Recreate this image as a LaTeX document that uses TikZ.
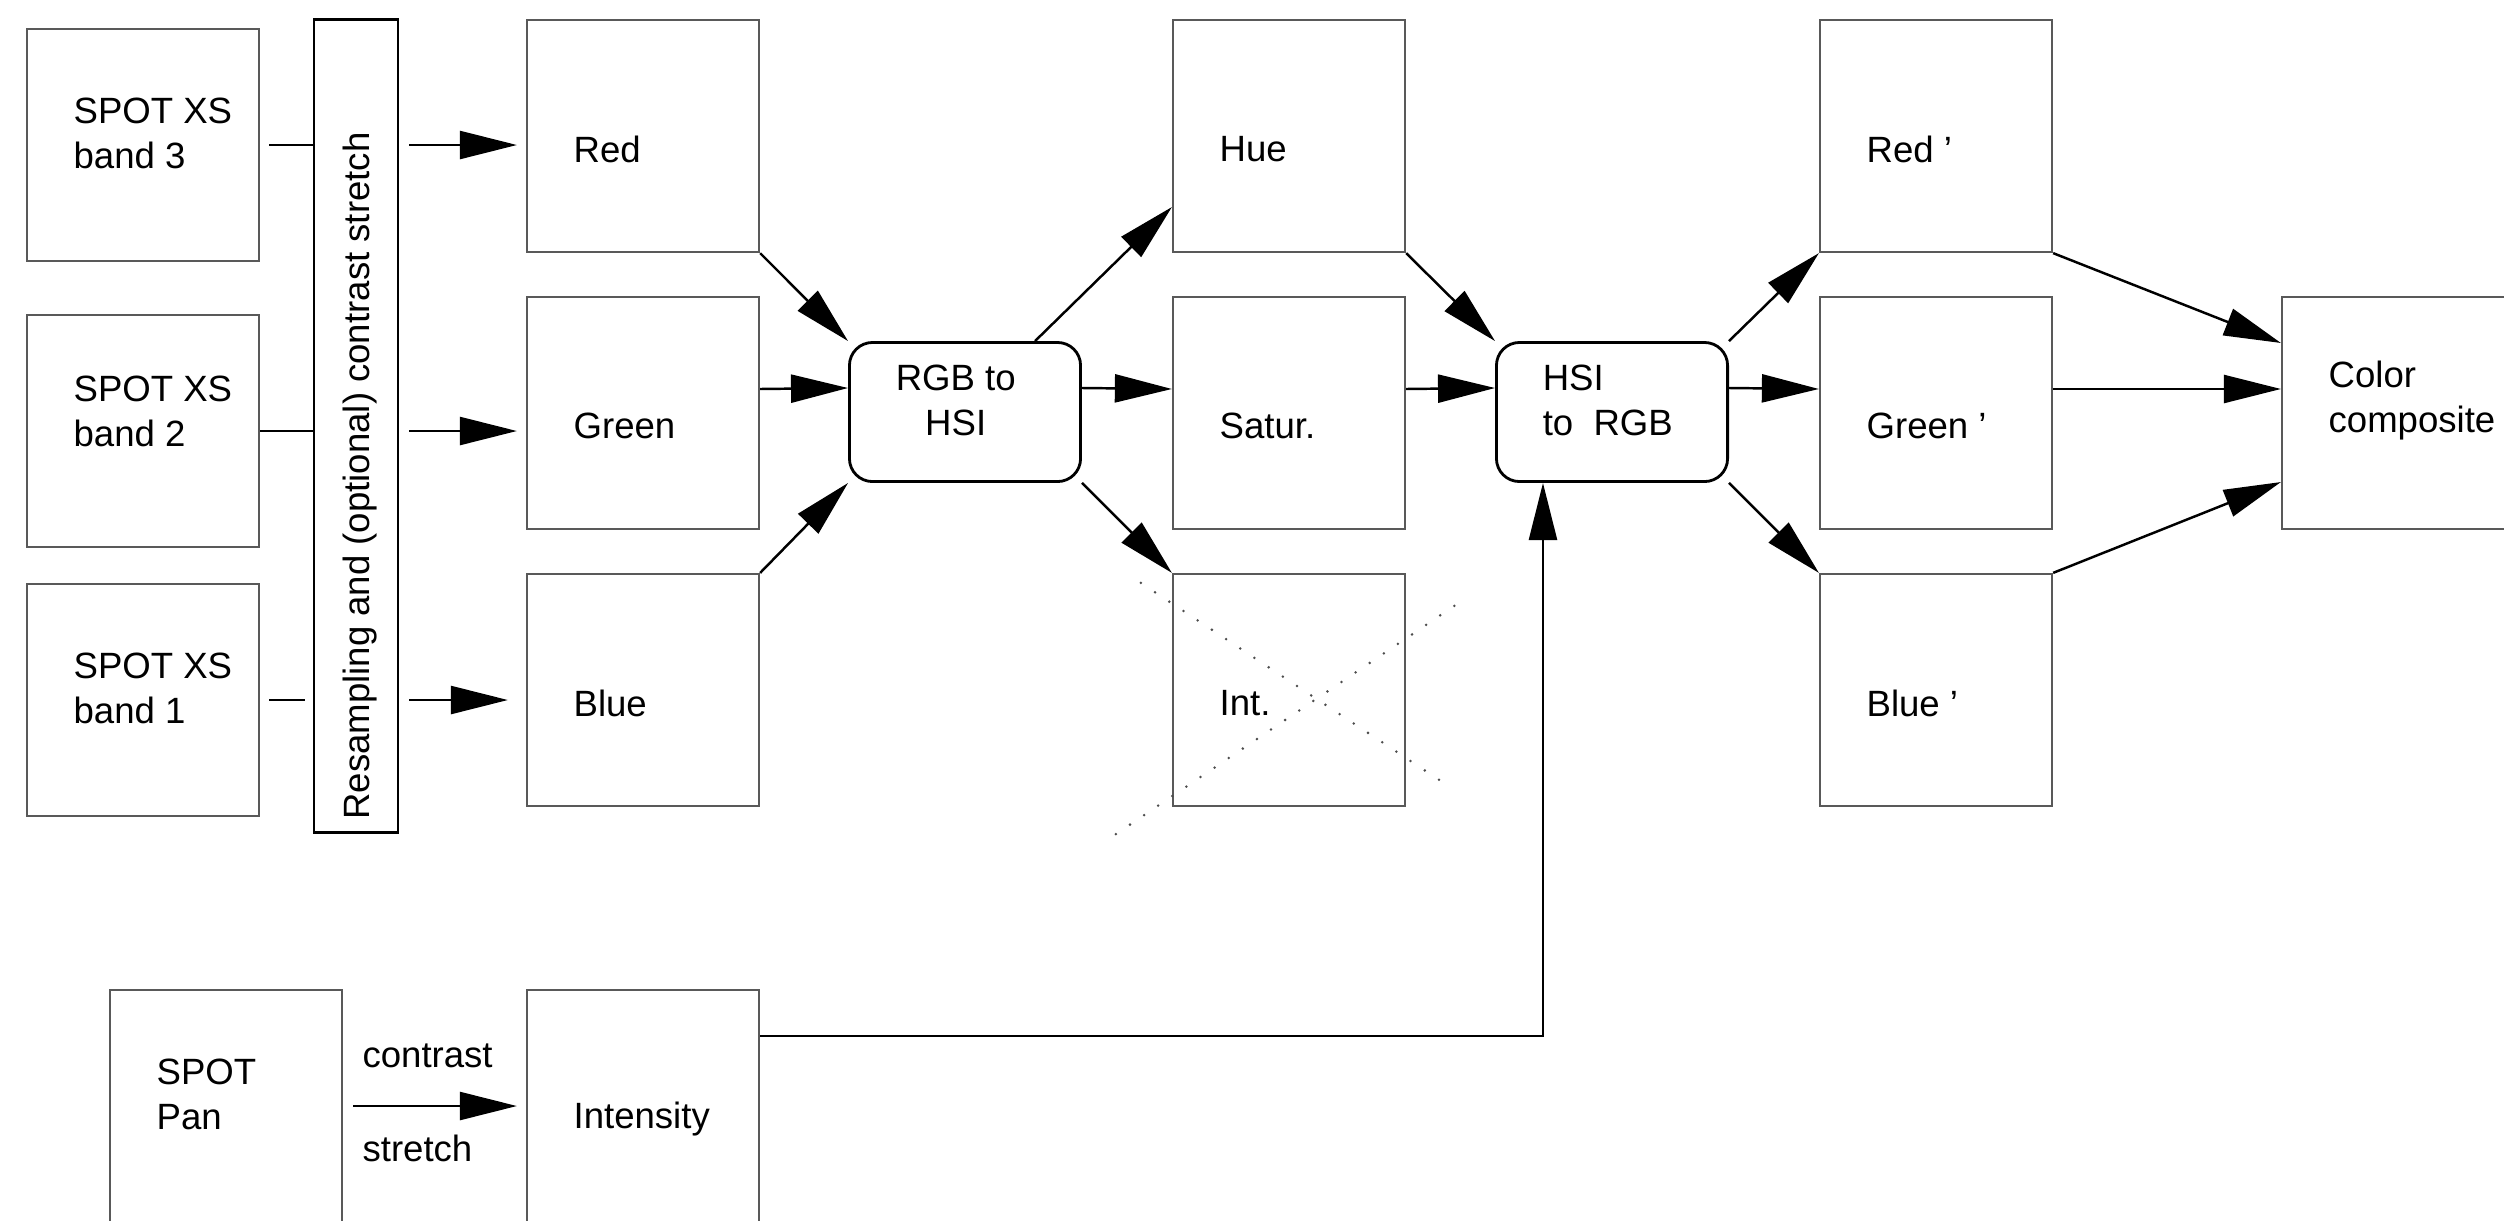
\documentclass[tikz,border=0pt]{standalone}
\usepackage{fontspec}
\setmainfont{Liberation Sans}
\usetikzlibrary{arrows.meta}
\tikzset{
  tl/.style={anchor=west, inner sep=0pt, xshift=0.47cm},
  cell/.style={draw=black!65, line width=0.6pt, minimum width=2.32cm, minimum height=2.32cm, inner sep=0pt},
  box/.style={cell, label={[tl, yshift=-0.13cm]west:#1}},
  boxii/.style={cell, label={[tl, yshift=0.12cm, align=left]west:#1}},
  proc/.style 2 args={draw, line width=0.8pt, rounded corners=0.23cm, minimum width=2.31cm, minimum height=1.39cm, inner sep=0pt,
    label={[tl, yshift=0.12cm, align=#1]west:#2}},
  ln/.style={line width=0.7pt},
  arr/.style={ln, -{Triangle[length=0.57cm, width=0.28cm]}},
  cross/.style={black!70, line width=0.8pt, line cap=round, dash pattern=on 0pt off 0.17cm},
}
\begin{document}
\begin{tikzpicture}[x=0.01cm, y=-0.01cm, font=\fontsize{10.4}{12.8}\selectfont]
\clip (0,0) rectangle (2504,1220);

% SPOT XS bands
\node[boxii={SPOT XS\\band 3}] (xs3) at (143,145) {};
\node[cell, label={[tl, yshift=0.2cm, align=left]west:SPOT XS\\band 2}] (xs2) at (143,431) {};
\node[boxii={SPOT XS\\band 1}] (xs1) at (143,700) {};
\node[draw, line width=0.8pt, minimum width=0.84cm, minimum height=8.13cm, inner sep=0pt] (bar) at (356,426) {};
\node[rotate=90, inner sep=0pt] (bartxt) at ([xshift=0.04cm, yshift=-0.5cm]bar.center) {Resampling and (optional) contrast stretch};

% RGB
\node[box={Red}] (red) at (643,136) {};
\node[box={Green}] (green) at (643,413) {};
\node[box={Blue}] (blue) at (643,690) {};
\node[proc={center}{RGB to\\HSI}] (rgb) at (965,412) {};

% HSI
\node[box={Hue}] (hue) at (1289,136) {};
\node[box={Satur.}] (sat) at (1289,413) {};
\node[box={Int.}] (int) at (1289,690) {};
\node[proc={left}{HSI\\to\ \ RGB}] (hsi) at (1612,412) {};

% new RGB
\node[box={Red '}] (red2) at (1936,136) {};
\node[box={Green '}] (green2) at (1936,413) {};
\node[box={Blue '}] (blue2) at (1936,690) {};
\node[boxii={Color\\composite}, minimum width=2.6cm] (color) at (2412,413) {};

% panchromatic
\node[boxii={SPOT\\Pan}] (pan) at (226,1106) {};
\node[box={Intensity}] (intensity) at (643,1106) {};

% connectors
\draw[ln] ([xshift=0.09cm]xs3.east) -- (xs3.east -| bar.west);
\draw[ln] (xs2.east) -- (xs2.east -| bar.west);
\draw[ln] ([xshift=0.09cm]xs1.east) -- ([xshift=-0.08cm]xs1.east -| bar.west);
\draw[arr] ([xshift=0.1cm]xs3.east -| bar.east) -- ([xshift=-0.09cm]xs3.east -| red.west);
\draw[arr] ([xshift=0.1cm]xs2.east -| bar.east) -- ([xshift=-0.09cm]xs2.east -| green.west);
\draw[arr] ([xshift=0.1cm]xs1.east -| bar.east) -- ([xshift=-0.18cm]xs1.east -| blue.west);

\draw[arr] (red.south east) -- (rgb.north west);
\draw[arr] ([yshift=0.24cm]green.east) -- ([yshift=0.24cm]rgb.west);
\draw[arr] (blue.north east) -- (rgb.south west);

\draw[arr] ([xshift=0.7cm]rgb.north) -- ([yshift=-0.71cm]hue.west);
\draw[arr] ([yshift=0.24cm]rgb.east) -- ([yshift=0.24cm]sat.west);
\draw[arr] (rgb.south east) -- (int.north west);

\draw[arr] (hue.south east) -- (hsi.north west);
\draw[arr] ([yshift=0.24cm]sat.east) -- ([yshift=0.24cm]hsi.west);
\draw[arr] ([yshift=0.7cm]intensity.east) -| ([xshift=-0.69cm]hsi.south);

\draw[arr] (hsi.north east) -- (red2.south west);
\draw[arr] ([yshift=0.24cm]hsi.east) -- ([yshift=0.24cm]green2.west);
\draw[arr] (hsi.south east) -- (blue2.north west);

\draw[arr] (red2.south east) -- ([yshift=0.7cm]color.west);
\draw[arr] ([yshift=0.24cm]green2.east) -- ([yshift=0.24cm]color.west);
\draw[arr] (blue2.north east) -- ([yshift=-0.69cm]color.west);

\draw[arr] ([xshift=0.1cm]pan.east) -- ([xshift=-0.09cm]intensity.west)
  node[pos=0.05, anchor=south west, inner sep=0pt, yshift=0.37cm] (ctr) {contrast}
  node[pos=0.05, anchor=north west, inner sep=0pt, yshift=-0.28cm] (str) {stretch};

% intensity discarded
\draw[cross] ([shift={(-31,10)}]int.north west) -- ([shift={(44,-20)}]int.south east);
\draw[cross] ([shift={(-56,27)}]int.south west) -- ([shift={(57,27)}]int.north east);
\end{tikzpicture}
\end{document}
